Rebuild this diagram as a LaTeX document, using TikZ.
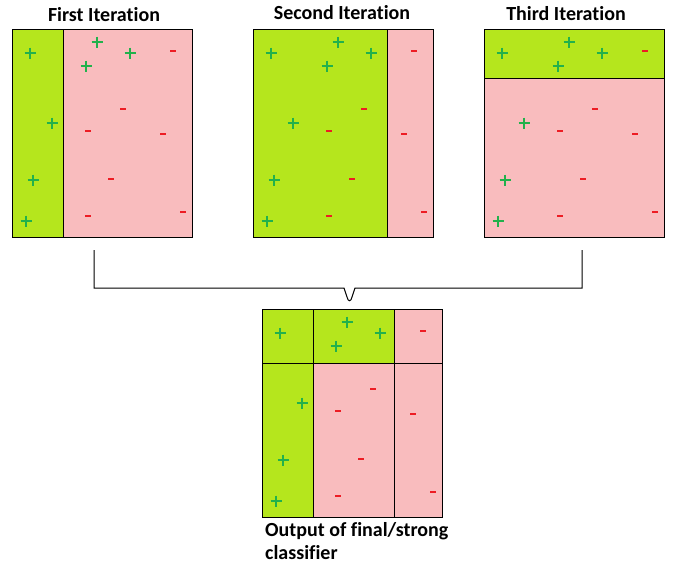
\documentclass[tikz,border=0pt]{standalone}
\usepackage{fontspec}
\setmainfont[Ligatures=NoCommon]{Carlito}
\definecolor{lime}{HTML}{B5E61D}
\definecolor{rosa}{HTML}{F9BCBE}
\definecolor{pgreen}{HTML}{22B14C}
\definecolor{pred}{HTML}{ED1C24}
\newcommand\mypoints{%
  \foreach \a/\b in {18/24,85/13,118/24,74/37,40/94,21/151,14/192}
    \pic at (\a,\b) {plusmk};
  \foreach \a/\b in {161/22,111/80,76/102,151/105,99/150,76/187,171/183}
    \pic at (\a,\b) {minusmk};
}
\begin{document}
\begin{tikzpicture}[x=1pt,y=-1pt,
  plusmk/.pic={\draw[pgreen,line width=2.2pt] (-5.5,0)--(5.5,0) (0,-5.5)--(0,5.5);},
  minusmk/.pic={\fill[pred] (-3,-1) rectangle (3,1);},
  frame/.style={draw=black,line width=1pt},
  sep/.style={draw=black,line width=1pt},
  title/.style={font=\bfseries\fontsize{20}{24}\selectfont,anchor=base,inner sep=0pt},
  caption/.style={font=\bfseries\fontsize{20}{24}\selectfont,anchor=base west,inner sep=0pt},
  link/.style={draw=black,line width=1pt}]
\useasboundingbox (0,0) rectangle (674,565);
% ---- first iteration
\begin{scope}[shift={(12,29)}]
  \fill[rosa] (0,0) rectangle (180,208);
  \fill[lime] (0,0) rectangle (51,208);
  \mypoints
  \draw[sep] (51,0) -- (51,208);
  \node[frame,anchor=north west,minimum width=180pt,minimum height=208pt,inner sep=0pt] (b1) at (0,0) {};
\end{scope}
\node[title] (t1) at (104,21) {First Iteration};
% ---- second iteration
\begin{scope}[shift={(253,29)}]
  \fill[rosa] (0,0) rectangle (180,208);
  \fill[lime] (0,0) rectangle (134,208);
  \mypoints
  \draw[sep] (134,0) -- (134,208);
  \node[frame,anchor=north west,minimum width=180pt,minimum height=208pt,inner sep=0pt] (b2) at (0,0) {};
\end{scope}
\node[title] (t2) at (342,19) {Second Iteration};
% ---- third iteration
\begin{scope}[shift={(484,29)}]
  \fill[rosa] (0,0) rectangle (180,208);
  \fill[lime] (0,0) rectangle (180,49);
  \mypoints
  \draw[sep] (0,49) -- (180,49);
  \node[frame,anchor=north west,minimum width=180pt,minimum height=208pt,inner sep=0pt] (b3) at (0,0) {};
\end{scope}
\node[title] (t3) at (566,20) {Third Iteration};
% ---- final classifier
\begin{scope}[shift={(262,309)}]
  \fill[rosa] (0,0) rectangle (180,208);
  \fill[lime] (0,0) rectangle (132,54);
  \fill[lime] (0,54) rectangle (51,208);
  \mypoints
  \draw[sep] (51,0) -- (51,208);
  \draw[sep] (132,0) -- (132,209);
  \draw[sep] (0,54) -- (180,54);
  \node[frame,anchor=north west,minimum width=180pt,minimum height=208pt,inner sep=0pt] (bf) at (0,0) {};
\end{scope}
\node[caption] (c1) at (265,536) {Output of final/strong};
\node[caption] (c2) at (265,559) {classifier};
% ---- bracket
\coordinate (l) at (94,250);
\coordinate (r) at (582,250);
\draw[link] (l) -- (94,288) -- (344,288) -- (347,297)
  .. controls (348,302) and (351,302) .. (352,297) -- (355,288) -- (582,288) -- (r);
\end{tikzpicture}
\end{document}
